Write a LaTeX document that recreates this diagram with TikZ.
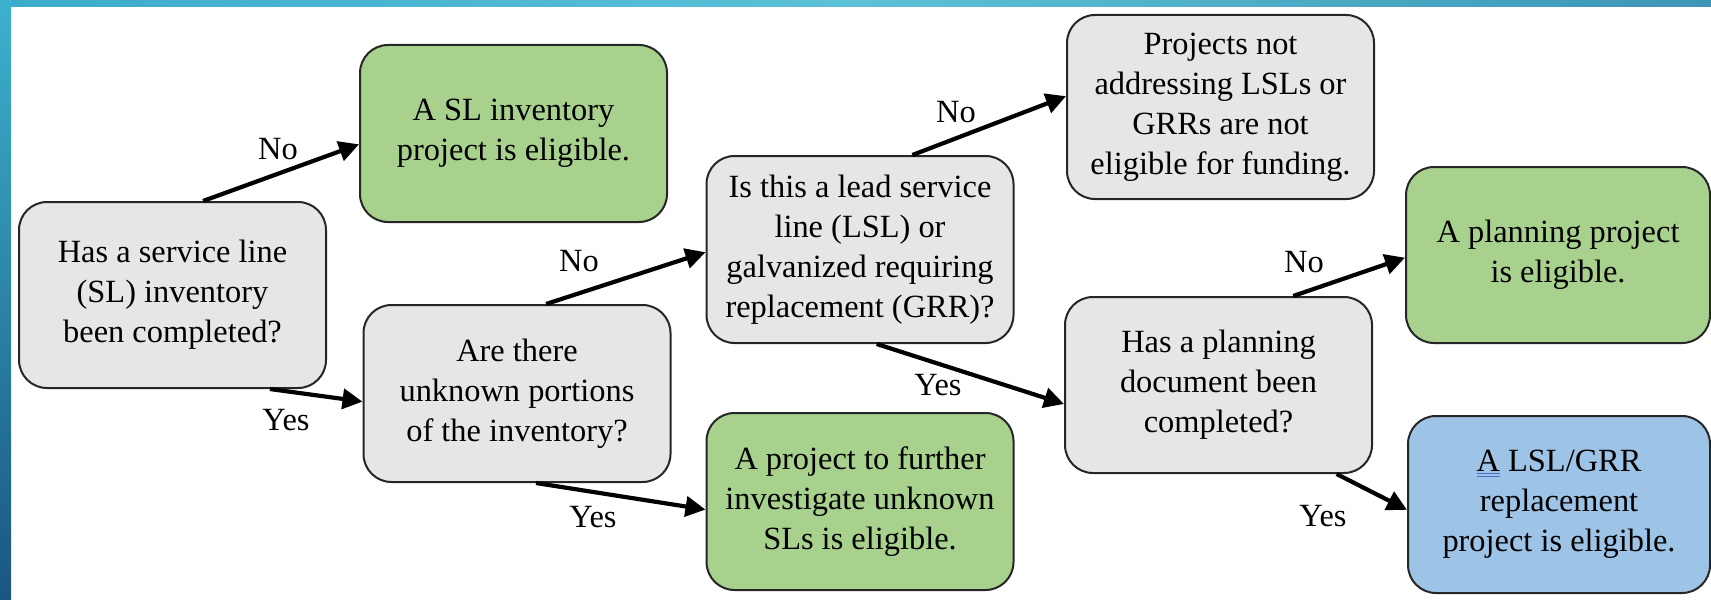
\documentclass[tikz,border=0pt]{standalone}
\usepackage{fontspec}
\setmainfont{Liberation Serif}
\usetikzlibrary{arrows.meta}
\definecolor{boxgray}{HTML}{E7E6E6}
\definecolor{boxgreen}{HTML}{A9D18E}
\definecolor{boxblue}{HTML}{9DC3E6}
\definecolor{bandleft}{HTML}{3CACCA}
\definecolor{bandmid}{HTML}{5CC1D8}
\definecolor{bandright}{HTML}{3D96B4}
\definecolor{bartop}{HTML}{3DB1CD}
\definecolor{barbottom}{HTML}{1A5682}
\definecolor{gramblue}{HTML}{4472C4}
\newcommand{\markedA}{\leavevmode\rlap{\color{gramblue}\rule[-1pt]{0.72em}{0.45pt}}\rlap{\color{gramblue}\rule[-2.5pt]{0.72em}{0.45pt}}A}
\tikzset{
  question/.style={draw=black!85,line width=1pt,rounded corners=14pt,fill=boxgray,
    align=center,minimum width=153.5pt,minimum height=88.5pt,inner sep=2pt,
    font=\fontsize{16.2pt}{20pt}\selectfont},
  outcome/.style={question,fill=boxgreen},
  answer/.style={inner sep=1pt,font=\fontsize{16.2pt}{20pt}\selectfont},
  flow/.style={-{Triangle[length=10pt,width=10pt]},line width=2.1pt}
}

\begin{document}
\begin{tikzpicture}[x=0.5pt,y=-0.5pt]

    % -- Slide frame: white sheet, band on top, bar on the left --
    \useasboundingbox (0,0) rectangle (1711,599);
    \fill[white] (0,0) rectangle (1711,599);
    \shade[left color=bandleft,right color=bandright,middle color=bandmid] (0,0) rectangle (1711,7);
    \shade[top color=bartop,bottom color=barbottom] (0,0) rectangle (11,599);

    % -- Questions (grey) --
    \node[question,minimum height=93pt] (inventory) at (172.5,295) {Has a service line\\(SL) inventory\\been completed?};
    \node[question] (unknown) at (517,393.5) {Are there\\unknown portions\\of the inventory?};
    \node[question,minimum height=93.5pt] (lead) at (860,249.5) {Is this a lead service\\line (LSL) or\\galvanized requiring\\replacement (GRR)?};
    \node[question,minimum height=88pt] (planning) at (1218.5,385) {Has a planning\\document been\\completed?};

    % -- Outcomes --
    \node[outcome] (slproject) at (513.5,133.5) {A SL inventory\\project is eligible.};
    \node[outcome] (investigate) at (860,501.5) {A project to further\\investigate unknown\\SLs is eligible.};
    \node[question,minimum height=92pt] (noteligible) at (1220.5,107) {Projects not\\addressing LSLs or\\GRRs are not\\eligible for funding.};
    \node[outcome,minimum width=152pt,minimum height=88pt] (planproject) at (1558,255) {A planning project\\is eligible.};
    \node[outcome,fill=boxblue,minimum width=151pt] (replacement) at (1559,504.5) {\markedA{} LSL/GRR\\replacement\\project is eligible.};

    % -- Answer labels next to the arrows --
    \node[answer] (no1) at (278,149) {No};
    \node[answer] (yes1) at (286,420) {Yes};
    \node[answer] (no2) at (579,261) {No};
    \node[answer] (yes2) at (593,517) {Yes};
    \node[answer] (no3) at (956,112) {No};
    \node[answer] (yes3) at (938,385) {Yes};
    \node[answer] (no4) at (1304,262) {No};
    \node[answer] (yes4) at (1323,516) {Yes};

    % -- Arrows between the boxes (border points given by angle) --
    \draw[flow] (inventory.72.4) -- (slproject.184.3);
    \draw[flow] (inventory.316.4) -- (unknown.183.2);
    \draw[flow] (unknown.72.4) -- (lead.181);
    \draw[flow] (unknown.282.7) -- (investigate.183.9);
    \draw[flow] (lead.61.9) -- (noteligible.176.6);
    \draw[flow] (lead.280.9) -- (planning.187.8);
    \draw[flow] (planning.50.5) -- (planproject.181.1);
    \draw[flow] (planning.323.9) -- (replacement.182.8);

\end{tikzpicture}
\end{document}
